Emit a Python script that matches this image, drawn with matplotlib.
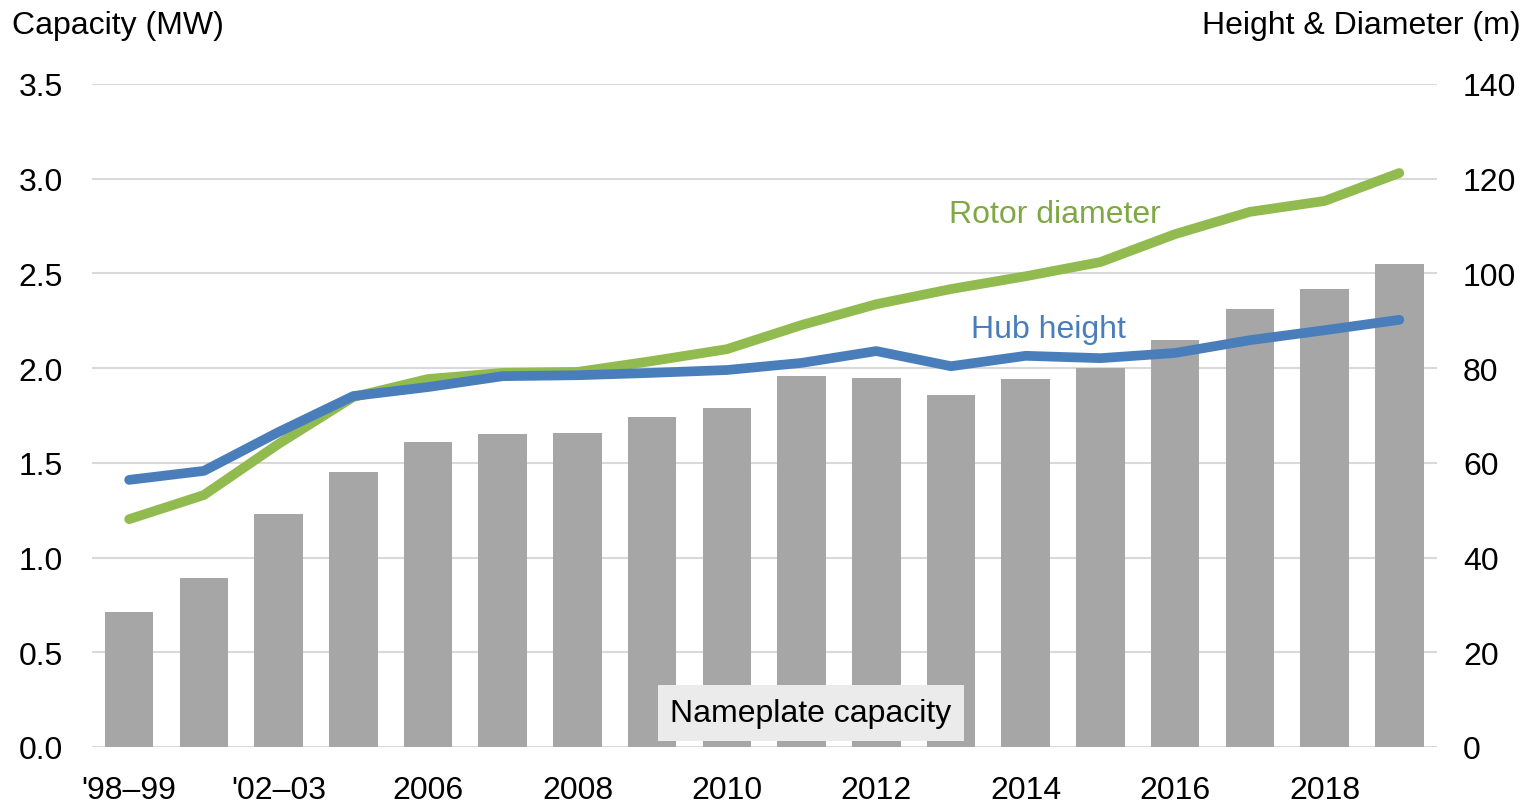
import numpy as np
import matplotlib.pyplot as plt

plt.rcParams['font.family'] = ['Liberation Sans', 'DejaVu Sans']

# data
years = ["'98\u201399", "'00\u201301", "'02\u201303", "'04\u201305",
         "2006", "2007", "2008", "2009", "2010", "2011", "2012",
         "2013", "2014", "2015", "2016", "2017", "2018", "2019"]
capacity_mw = [0.71, 0.89, 1.23, 1.45, 1.61, 1.65, 1.66, 1.74, 1.79, 1.96,
               1.95, 1.86, 1.94, 2.00, 2.15, 2.31, 2.42, 2.55]
rotor_diameter_m = [48.1, 53.2, 64.0, 73.9, 77.7, 79.0, 79.2, 81.5, 84.0, 89.1,
                    93.5, 96.7, 99.4, 102.4, 108.3, 113.0, 115.3, 121.2]
hub_height_m = [56.4, 58.3, 66.5, 74.1, 76.0, 78.3, 78.5, 79.0, 79.6, 81.1,
                83.6, 80.4, 82.6, 82.1, 83.2, 85.9, 88.0, 90.2]
shown_labels = ["'98\u201399", "'02\u201303", "2006", "2008", "2010",
                "2012", "2014", "2016", "2018"]

bar_color = '#a6a6a6'
green = '#92bb4f'
blue = '#4a7ebb'
grid_color = '#d9d9d9'
fs = 23

fig = plt.figure(figsize=(15.3, 8.04), dpi=100)
ax = fig.add_axes([0.060, 0.0697, 0.879, 0.8246])
x = np.arange(len(years))

ax.bar(x, capacity_mw, width=0.65, color=bar_color, zorder=2)
ax.set_xlim(-0.5, len(years) - 0.5)
ax.set_ylim(0, 3.5)
ax.set_yticks(np.arange(0, 3.51, 0.5))
ax.set_yticklabels([f'{v:.1f}' for v in np.arange(0, 3.51, 0.5)])
ax.grid(axis='y', color=grid_color, linewidth=1.5, zorder=0)
ax.set_axisbelow(True)
tick_pos = [years.index(l) for l in shown_labels]
ax.set_xticks(tick_pos)
ax.set_xticklabels(shown_labels)
for s in ax.spines.values():
    s.set_visible(False)
ax.tick_params(axis='both', length=0, labelsize=fs, colors='black')
ax.tick_params(axis='y', pad=21)
ax.tick_params(axis='x', pad=20)

ax.text(9.125, 0.18, 'Nameplate capacity', fontsize=fs, ha='center', va='center',
        zorder=5, bbox=dict(boxstyle='square,pad=0.4', facecolor='#ebebeb',
                            edgecolor='none'))

ax2 = ax.twinx()
ax2.plot(x, rotor_diameter_m, color=green, linewidth=7, solid_capstyle='round',
         solid_joinstyle='round', zorder=3)
ax2.plot(x, hub_height_m, color=blue, linewidth=7, solid_capstyle='round',
         solid_joinstyle='round', zorder=4)
ax2.set_ylim(0, 140)
ax2.set_yticks(np.arange(0, 141, 20))
for s in ax2.spines.values():
    s.set_visible(False)
ax2.tick_params(axis='y', length=0, labelsize=fs, pad=19)

ax2.text(12.39, 112.5, 'Rotor diameter', color='#7fa844', fontsize=fs,
         ha='center', va='center')
ax2.text(12.3, 88.3, 'Hub height', color=blue, fontsize=fs,
         ha='center', va='center')

fig.text(0.008, 0.968, 'Capacity (MW)', fontsize=fs, ha='left', va='center')
fig.text(0.994, 0.968, 'Height & Diameter (m)', fontsize=fs, ha='right', va='center')

fig.savefig('out.png', dpi=100)
